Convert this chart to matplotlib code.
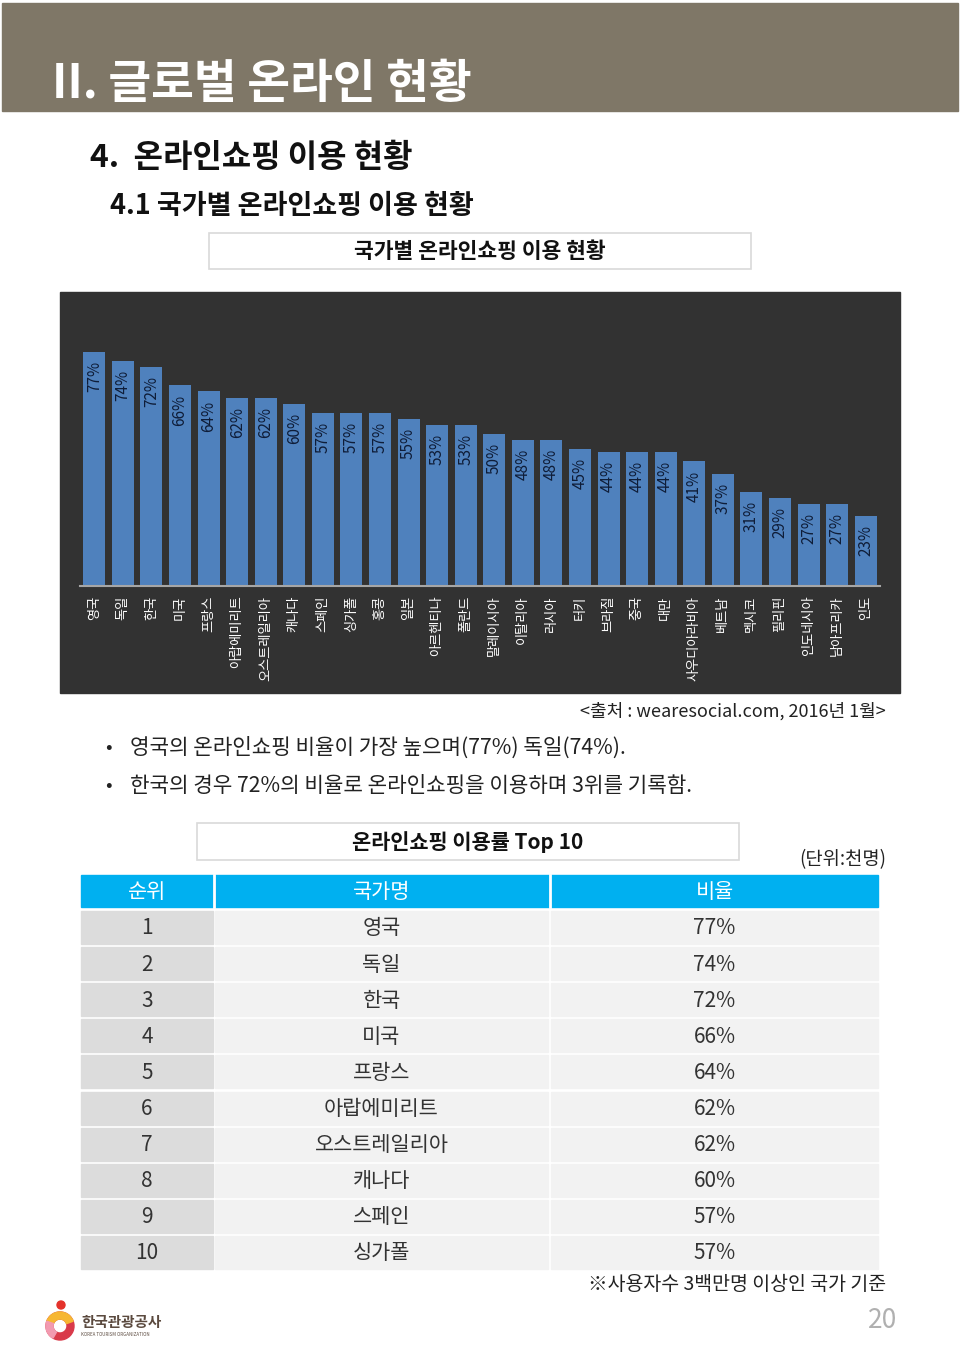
import matplotlib
matplotlib.use("Agg")
import matplotlib.pyplot as plt
from matplotlib.patches import Rectangle, Circle, Wedge

plt.rcParams['font.family'] = ['Noto Sans CJK KR', 'DejaVu Sans']

# 국가별 온라인쇼핑 이용 비율 (%)
countries = ['영국', '독일', '한국', '미국', '프랑스', '아랍에미리트', '오스트레일리아',
             '캐나다', '스페인', '싱가폴', '홍콩', '일본', '아르헨티나', '폴란드',
             '말레이시아', '이탈리아', '러시아', '터키', '브라질', '중국', '대만',
             '사우디아라비아', '베트남', '멕시코', '필리핀', '인도네시아', '남아프리카', '인도']
rates = [77, 74, 72, 66, 64, 62, 62, 60, 57, 57, 57, 55, 53, 53,
         50, 48, 48, 45, 44, 44, 44, 41, 37, 31, 29, 27, 27, 23]

table_cols = ['순위', '국가명', '비율']
top_n = 10

W, H = 960, 1345
fig = plt.figure(figsize=(W / 100, H / 100), dpi=100)
page = fig.add_axes([0, 0, 1, 1])
page.set_xlim(0, W)
page.set_ylim(H, 0)
page.axis('off')

# header band
page.add_patch(Rectangle((2, 3), 956, 108, color='#7f7767'))
page.text(52, 84, 'II. 글로벌 온라인 현황', color='white', fontsize=33.5,
          fontweight='bold', va='center')
page.text(90, 158, '4.  온라인쇼핑 이용 현황', fontsize=23, fontweight='bold',
          va='center', color='#111111')
page.text(110, 206, '4.1 국가별 온라인쇼핑 이용 현황', fontsize=19.5, fontweight='bold',
          va='center', color='#111111')

# chart title box
page.add_patch(Rectangle((209, 233), 542, 36, facecolor='white',
                         edgecolor='#d9d9d9', lw=1.2))
page.text(480, 252, '국가별 온라인쇼핑 이용 현황', fontsize=15.5, fontweight='bold',
          ha='center', va='center', color='#111111')

# dark chart background
page.add_patch(Rectangle((60, 292), 840, 401, color='#323232'))

# bar chart
px_per_pct = 3.04
ax = fig.add_axes([80 / W, (H - 586) / H, 800 / W, 294 / H])
ax.patch.set_alpha(0)
ax.set_xlim(-0.5, len(countries) - 0.5)
ax.set_ylim(0, 294 / px_per_pct)
ax.bar(range(len(countries)), rates, width=0.77, color='#4f81bd')
for i, v in enumerate(rates):
    ax.text(i, v - 3.0, f'{v}%', rotation=90, ha='center', va='top',
            fontsize=11, color='#0f1d38')
ax.set_xticks(range(len(countries)))
ax.set_xticklabels(countries, rotation=90, color='white', fontsize=9.5)
ax.tick_params(axis='x', length=0, pad=7)
ax.set_yticks([])
for s in ['top', 'right', 'left']:
    ax.spines[s].set_visible(False)
ax.spines['bottom'].set_color('#a6a6a6')
ax.spines['bottom'].set_linewidth(1.5)

# source and bullets
page.text(886, 711, '<출처 : wearesocial.com, 2016년 1월>', fontsize=13,
          ha='right', va='center', color='#222222')
bullets = ['영국의 온라인쇼핑 비율이 가장 높으며(77%) 독일(74%).',
           '한국의 경우 72%의 비율로 온라인쇼핑을 이용하며 3위를 기록함.']
for k, b in enumerate(bullets):
    y = 748 + 38 * k
    page.text(105, y, '•', fontsize=14, va='center', color='#222222')
    page.text(130, y, b, fontsize=15.3, va='center', color='#222222')

# table title box
page.add_patch(Rectangle((197, 823), 542, 37, facecolor='white',
                         edgecolor='#d9d9d9', lw=1.2))
page.text(468, 842, '온라인쇼핑 이용률 Top 10', fontsize=15, fontweight='bold',
          ha='center', va='center', color='#111111')
page.text(886, 860, '(단위:천명)', fontsize=13.5, ha='right', va='center',
          color='#222222')

# table
col_x = [(81, 213), (215, 548), (551, 878)]
page.add_patch(Rectangle((81, 875), 797, 32, color='#00b0f0'))
for (x0, x1), name in zip(col_x, table_cols):
    page.text((x0 + x1) / 2, 892, name, fontsize=15, color='white',
              ha='center', va='center')
page.plot([214, 214], [875, 907], color='white', lw=2)
page.plot([549.5, 549.5], [875, 907], color='white', lw=2)

for r in range(top_n):
    y0 = 911 + 36.1 * r
    cells = [str(r + 1), countries[r], f'{rates[r]}%']
    for c, ((x0, x1), txt) in enumerate(zip(col_x, cells)):
        page.add_patch(Rectangle((x0, y0), x1 - x0, 33,
                                 color='#dcdcdc' if c == 0 else '#f2f2f2'))
        page.text((x0 + x1) / 2, y0 + 17.5, txt, fontsize=15, color='#333333',
                  ha='center', va='center')

page.text(886, 1285, '※사용자수 3백만명 이상인 국가 기준', fontsize=14,
          ha='right', va='center', color='#222222')
page.text(897, 1321, '20', fontsize=19, ha='right', va='center', color='#b0b0b0')

# logo
page.add_patch(Circle((61, 1305), 4, color='#e4322b'))
page.add_patch(Wedge((60, 1326), 14, 0, 360, width=7, color='#d93a4a'))
page.add_patch(Wedge((60, 1326), 14, 200, 340, width=7, color='#f6b733'))
page.add_patch(Wedge((60, 1326), 14, 120, 200, width=7, color='#f29ab0'))
page.text(81, 1322, '한국관광공사', fontsize=10.5, fontweight='bold',
          va='center', color='#5b4a3f')
page.text(81, 1334, 'KOREA TOURISM ORGANIZATION', fontsize=3.2,
          va='center', color='#5b4a3f')

fig.savefig('out.png', dpi=100)
